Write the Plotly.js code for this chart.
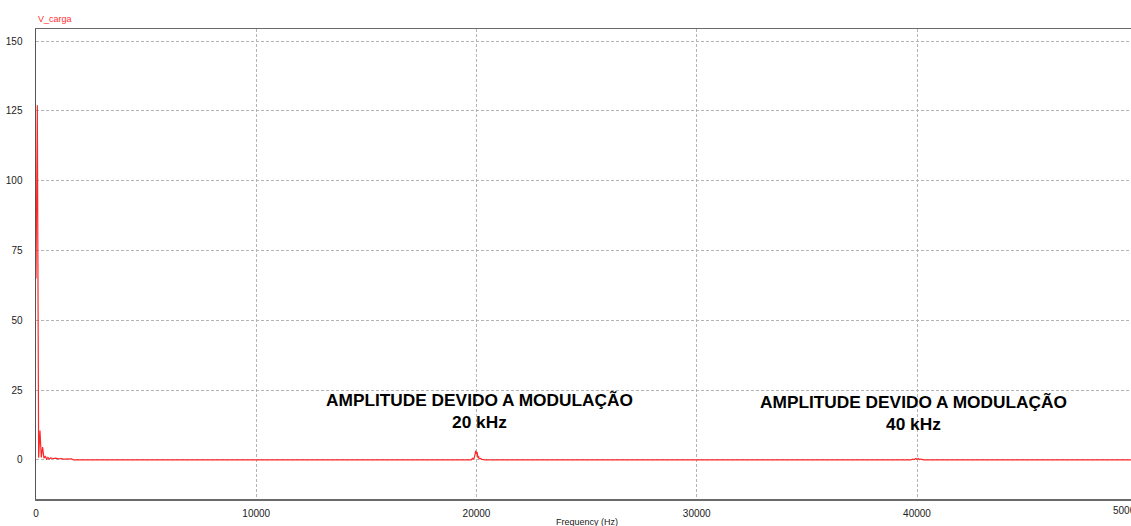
<!DOCTYPE html>
<html>
<head>
<meta charset="utf-8">
<script src="https://cdn.plot.ly/plotly-3.0.1.min.js"></script>
<style>
html,body{margin:0;padding:0;background:#fff;overflow:hidden;}
#chart{width:1131px;height:526px;}
</style>
</head>
<body>
<div id="chart"></div>
<script>
// Spectrum of V_carga (frequency in Hz, amplitude in V)
var freqHz = [0, 60, 120, 180, 240, 300, 360, 420, 480, 540, 600, 660, 780, 900, 1020, 1140, 1260, 1380, 1500, 1620, 1700,
  19600, 19760, 19820, 19880, 19910, 19940, 19970, 20000, 20030, 20060, 20090, 20120, 20180, 20240, 20400,
  39700, 39820, 39880, 39940, 40000, 40060, 40120, 40180, 40300, 50000];
var vCarga = [65, 127, 0.8, 10.5, 0.9, 4.6, 0.6, 1.4, 0.3, 0.9, 0.3, 0.7, 0.5, 0.6, 0.4, 0.5, 0.3, 0.4, 0.3, 0.4, 0,
  0, 0, 0.6, 0.3, 1.2, 2.4, 3.3, 2.2, 2.8, 0.8, 1.4, 0.4, 0.5, 0.2, 0,
  0, 0.3, 0.1, 0.5, 0.2, 0.5, 0.1, 0.3, 0, 0];
var xTicks = [0, 10000, 20000, 30000, 40000];
var yTicks = [0, 25, 50, 75, 100, 125, 150];
var lastXTickLabel = '50000';
var seriesName = 'V_carga';
var xTitle = 'Frequency (Hz)';
var note1 = 'AMPLITUDE DEVIDO A MODULAÇÃO<br>20 kHz';
var note2 = 'AMPLITUDE DEVIDO A MODULAÇÃO<br>40 kHz';

var trace = {
  x: freqHz, y: vCarga, type: 'scatter', mode: 'lines', name: seriesName,
  line: {color: 'rgb(255,40,40)', width: 1.2}, hoverinfo: 'none'
};

var gridStyle = {gridcolor: '#b4b4b4', griddash: '3px,2px', gridwidth: 1};

var layout = {
  width: 1131, height: 526,
  margin: {l: 36, r: 0, t: 29, b: 27, pad: 0},
  paper_bgcolor: '#ffffff', plot_bgcolor: '#ffffff',
  showlegend: false,
  font: {family: 'Liberation Sans, Arial, sans-serif', size: 10, color: '#222'},
  xaxis: Object.assign({
    range: [0, 49716], tickvals: xTicks, ticktext: xTicks.map(String),
    showgrid: true, zeroline: false, ticks: '', ticklabelstandoff: 4,
    showline: true, linecolor: '#6a6a6a', linewidth: 1.5, mirror: true,
    tickfont: {size: 10, color: '#222'}
  }, gridStyle),
  yaxis: Object.assign({
    range: [-14, 154.3], tickvals: yTicks, ticktext: yTicks.map(String),
    showgrid: true, zeroline: false, ticks: '', ticklabelstandoff: 10,
    showline: true, linecolor: '#555', linewidth: 1.5,
    tickfont: {size: 10, color: '#222'}
  }, gridStyle),
  annotations: [
    {xref: 'paper', yref: 'paper', x: 0, y: 1, xanchor: 'left', yanchor: 'bottom', yshift: 3,
     text: seriesName, showarrow: false, font: {size: 9, color: '#ff3030'}},
    {xref: 'paper', yref: 'paper', x: 0.9817, y: 0, xanchor: 'left', yanchor: 'top', yshift: -4,
     text: lastXTickLabel, showarrow: false, font: {size: 10, color: '#222'}},
    {xref: 'paper', yref: 'paper', x: 0.503, y: 0, xanchor: 'center', yanchor: 'top', yshift: -16,
     text: xTitle, showarrow: false, font: {size: 9, color: '#222'}},
    {xref: 'x', yref: 'y', x: 20150, y: 17.5, xanchor: 'center', yanchor: 'middle',
     text: '<b>' + note1 + '</b>', showarrow: false, font: {size: 17.3, color: '#000'}},
    {xref: 'x', yref: 'y', x: 39820, y: 16.8, xanchor: 'center', yanchor: 'middle',
     text: '<b>' + note2 + '</b>', showarrow: false, font: {size: 17.3, color: '#000'}}
  ]
};

Plotly.newPlot('chart', [trace], layout, {displayModeBar: false, staticPlot: true});
</script>
</body>
</html>
